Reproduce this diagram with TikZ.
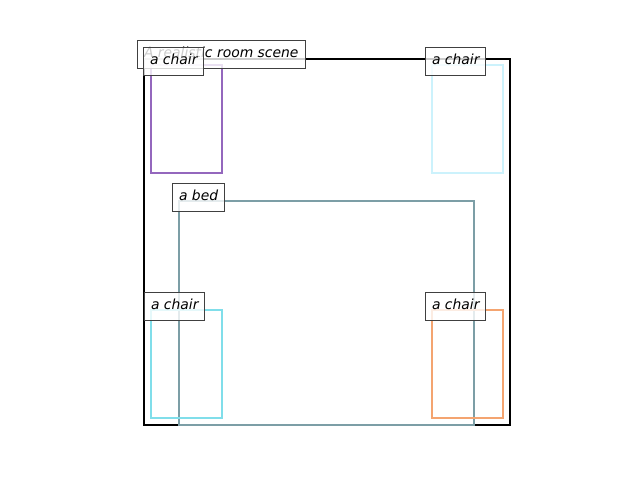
\documentclass[tikz,border=0pt]{standalone}
\usepackage{fontspec}
\setmainfont{DejaVu Sans}
\usetikzlibrary{positioning}
\definecolor{chairpurple}{RGB}{148,103,189}
\definecolor{chaircyan}{RGB}{204,242,252}
\definecolor{chairteal}{RGB}{128,222,234}
\definecolor{chairorange}{RGB}{244,164,112}
\definecolor{bedgray}{RGB}{124,158,166}
\tikzset{
  tag/.style={draw=black!75, line width=1pt, fill=white, fill opacity=0.8, text opacity=1,
    font=\fontsize{13.9}{16}\selectfont\itshape, inner xsep=6.5pt, inner ysep=7pt,
    text height=10.5pt, text depth=4pt, anchor=west},
  furniture/.style={line width=2.5pt}
}
\begin{document}
\begin{tikzpicture}[x=1pt,y=-1pt]
			\useasboundingbox (0,0) rectangle (640,480);
			
			%%%%% ROOM %%%%%
			\draw[line width=2.5pt, black] (144,59) rectangle (510,425);
			
			%%%%% FURNITURE %%%%%
			\draw[furniture, chairpurple] (151,65) rectangle (222,173);
			\draw[furniture, chaircyan] (432,65) rectangle (503,173);
			\draw[furniture, bedgray] (179,201) rectangle (474,425);
			\draw[furniture, chairteal] (151,310) rectangle (222,418);
			\draw[furniture, chairorange] (432,310) rectangle (503,418);
			
			%%%%% LABELS %%%%%
			\node[tag] (title) at (137,54.5) {A realistic room scene};
			\node[tag] (chairA) at (143,61.5) {a chair};
			\node[tag] (chairB) at (425,61.5) {a chair};
			\node[tag] (bed) at (172,197.5) {a bed};
			\node[tag] (chairC) at (144,306.5) {a chair};
			\node[tag] (chairD) at (425,306.5) {a chair};
\end{tikzpicture}
\end{document}
